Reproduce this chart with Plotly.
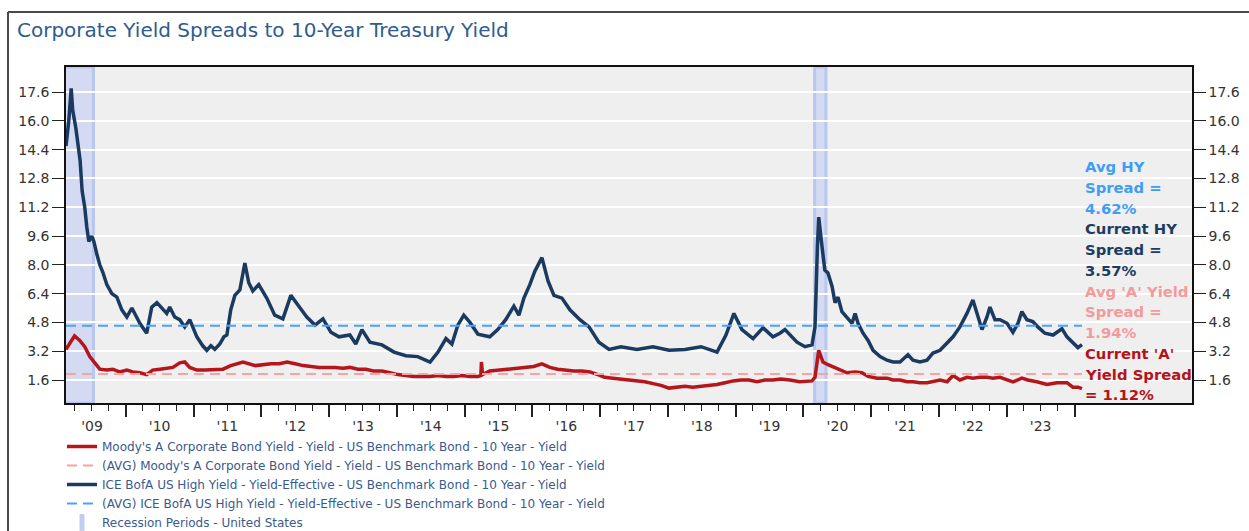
import plotly.graph_objects as go

# ---------------- data ----------------
hy_dates = [
    "2009-02-12", "2009-02-27", "2009-03-12", "2009-03-20", "2009-04-06", "2009-04-16", "2009-04-29",
    "2009-05-10", "2009-05-24", "2009-06-04", "2009-06-15", "2009-07-01", "2009-07-12", "2009-07-28",
    "2009-08-13", "2009-08-29", "2009-09-20", "2009-10-17", "2009-11-13", "2009-12-10", "2010-01-06",
    "2010-02-02", "2010-02-18", "2010-03-17", "2010-04-23", "2010-05-20", "2010-06-17", "2010-07-13",
    "2010-08-09", "2010-08-25", "2010-09-21", "2010-10-18", "2010-11-14", "2010-12-11", "2011-01-18",
    "2011-02-19", "2011-03-13", "2011-04-04", "2011-04-25", "2011-05-22", "2011-06-13", "2011-06-29",
    "2011-07-20", "2011-08-11", "2011-09-07", "2011-10-04", "2011-10-25", "2011-11-16", "2011-12-18",
    "2012-01-30", "2012-03-13", "2012-04-26", "2012-06-08", "2012-07-21", "2012-09-02", "2012-10-16",
    "2012-11-28", "2013-01-10", "2013-02-22", "2013-04-22", "2013-05-24", "2013-06-26", "2013-08-08",
    "2013-10-12", "2013-12-16", "2014-02-18", "2014-04-23", "2014-06-28", "2014-08-10", "2014-09-22",
    "2014-10-24", "2014-11-25", "2014-12-27", "2015-01-29", "2015-03-13", "2015-05-16", "2015-06-28",
    "2015-08-10", "2015-09-23", "2015-10-20", "2015-11-16", "2015-12-18", "2016-01-14", "2016-02-21",
    "2016-03-25", "2016-04-26", "2016-06-08", "2016-07-21", "2016-09-13", "2016-11-01", "2016-12-24",
    "2017-02-17", "2017-04-22", "2017-07-17", "2017-10-12", "2018-01-06", "2018-04-02", "2018-06-28",
    "2018-09-22", "2018-11-09", "2018-12-22", "2019-02-03", "2019-04-04", "2019-05-28", "2019-07-20",
    "2019-08-27", "2019-09-23", "2019-11-27", "2020-01-09", "2020-02-16", "2020-03-03", "2020-03-16",
    "2020-03-23", "2020-04-10", "2020-04-25", "2020-05-12", "2020-06-03", "2020-06-19", "2020-07-05",
    "2020-07-26", "2020-08-22", "2020-09-19", "2020-10-05", "2020-10-21", "2020-11-17", "2020-12-14",
    "2021-01-10", "2021-02-17", "2021-03-26", "2021-04-27", "2021-06-04", "2021-07-17", "2021-08-13",
    "2021-09-20", "2021-10-28", "2021-11-29", "2022-01-06", "2022-02-13", "2022-03-17", "2022-04-23",
    "2022-05-31", "2022-07-02", "2022-07-24", "2022-08-20", "2022-09-16", "2022-10-02", "2022-10-29",
    "2022-11-25", "2023-01-02", "2023-02-03", "2023-03-02", "2023-03-23", "2023-04-19", "2023-05-21",
    "2023-06-17", "2023-07-25", "2023-09-07", "2023-10-25", "2023-11-21", "2023-12-23", "2024-01-19",
    "2024-02-10",
]
hy_values = [
    14.6, 16.0, 17.8, 16.6, 15.6, 14.9, 13.8,
    12.1, 11.2, 10.1, 9.3, 9.6, 9.3, 8.6,
    8.0, 7.6, 6.9, 6.4, 6.2, 5.5, 5.1,
    5.6, 5.3, 4.75, 4.2, 5.65, 5.9, 5.6,
    5.3, 5.65, 5.1, 4.95, 4.55, 4.95, 4.0,
    3.5, 3.25, 3.5, 3.3, 3.6, 4.0, 4.1,
    5.5, 6.3, 6.6, 8.1, 7.0, 6.55, 6.9,
    6.15, 5.2, 5.0, 6.3, 5.7, 5.1, 4.65,
    5.0, 4.25, 4.0, 4.1, 3.6, 4.4, 3.7,
    3.55, 3.15, 2.95, 2.9, 2.6, 3.15, 3.9,
    3.6, 4.65, 5.2, 4.8, 4.15, 4.0, 4.4,
    4.95, 5.7, 5.2, 6.15, 6.9, 7.65, 8.4,
    7.1, 6.3, 6.15, 5.5, 4.95, 4.55, 3.7,
    3.3, 3.45, 3.3, 3.45, 3.25, 3.3, 3.45,
    3.15, 4.1, 5.3, 4.4, 3.9, 4.5, 4.0,
    4.2, 4.4, 3.7, 3.45, 3.55, 4.55, 9.0,
    10.65, 9.0, 7.7, 7.55, 6.8, 5.9, 6.2,
    5.4, 5.1, 4.75, 5.3, 4.75, 4.2, 3.8,
    3.25, 2.9, 2.7, 2.6, 2.6, 3.0, 2.7,
    2.6, 2.7, 3.1, 3.25, 3.65, 4.0, 4.55,
    5.3, 6.05, 5.3, 4.4, 5.1, 5.65, 4.95,
    4.95, 4.75, 4.25, 4.75, 5.4, 4.95, 4.85,
    4.55, 4.2, 4.1, 4.45, 4.0, 3.65, 3.4,
    3.57,
]

a_dates = [
    "2009-02-12", "2009-03-14", "2009-03-30", "2009-04-27", "2009-05-24", "2009-06-20", "2009-07-17",
    "2009-08-13", "2009-09-20", "2009-10-22", "2009-11-28", "2010-01-06", "2010-02-07", "2010-03-17",
    "2010-04-23", "2010-05-25", "2010-07-03", "2010-08-09", "2010-09-11", "2010-10-18", "2010-11-14",
    "2010-12-11", "2011-01-18", "2011-03-02", "2011-04-25", "2011-06-08", "2011-07-20", "2011-09-24",
    "2011-11-30", "2012-01-12", "2012-02-23", "2012-04-06", "2012-05-19", "2012-07-01", "2012-08-13",
    "2012-09-25", "2012-11-07", "2012-12-20", "2013-02-01", "2013-03-16", "2013-04-22", "2013-06-04",
    "2013-07-17", "2013-08-28", "2013-10-12", "2013-11-24", "2014-01-06", "2014-02-18", "2014-04-02",
    "2014-05-14", "2014-06-28", "2014-08-10", "2014-09-22", "2014-11-04", "2014-12-17", "2015-01-29",
    "2015-03-13", "2015-03-29", "2015-04-01", "2015-04-07", "2015-05-16", "2015-07-08", "2015-08-31",
    "2015-10-13", "2015-11-25", "2016-01-08", "2016-02-21", "2016-04-04", "2016-05-16", "2016-06-28",
    "2016-08-11", "2016-09-24", "2016-11-06", "2016-12-19", "2017-01-24", "2017-03-09", "2017-04-22",
    "2017-06-04", "2017-07-17", "2017-08-29", "2017-10-12", "2017-11-24", "2018-01-06", "2018-02-18",
    "2018-04-02", "2018-05-14", "2018-06-28", "2018-08-10", "2018-09-22", "2018-11-04", "2018-12-17",
    "2019-01-29", "2019-03-13", "2019-04-25", "2019-06-07", "2019-07-20", "2019-09-01", "2019-10-19",
    "2019-12-12", "2020-02-16", "2020-03-03", "2020-03-23", "2020-04-15", "2020-05-12", "2020-06-19",
    "2020-07-15", "2020-08-22", "2020-10-05", "2020-11-11", "2020-12-14", "2021-02-01", "2021-03-26",
    "2021-04-27", "2021-06-04", "2021-07-12", "2021-08-13", "2021-09-20", "2021-10-28", "2021-11-29",
    "2022-01-06", "2022-02-13", "2022-03-17", "2022-04-23", "2022-05-31", "2022-07-02", "2022-08-09",
    "2022-09-16", "2022-10-18", "2022-11-25", "2023-01-02", "2023-02-03", "2023-03-23", "2023-04-24",
    "2023-06-12", "2023-08-05", "2023-09-28", "2023-11-21", "2023-12-23", "2024-01-19", "2024-02-10",
]
a_values = [
    3.3, 3.8, 4.05, 3.8, 3.45, 2.9, 2.55,
    2.2, 2.15, 2.2, 2.05, 2.15, 2.05, 2.0,
    1.9, 2.15, 2.2, 2.25, 2.3, 2.55, 2.6,
    2.3, 2.15, 2.15, 2.2, 2.2, 2.4, 2.6,
    2.4, 2.45, 2.5, 2.5, 2.6, 2.5, 2.4,
    2.35, 2.3, 2.3, 2.3, 2.25, 2.3, 2.2,
    2.2, 2.1, 2.1, 2.0, 1.9, 1.85, 1.8,
    1.8, 1.8, 1.85, 1.8, 1.8, 1.85, 1.8,
    1.8, 1.85, 2.6, 1.9, 2.1, 2.15, 2.2,
    2.25, 2.3, 2.35, 2.5, 2.3, 2.2, 2.15,
    2.1, 2.1, 2.05, 1.9, 1.75, 1.7, 1.65,
    1.6, 1.55, 1.5, 1.4, 1.3, 1.15, 1.2,
    1.25, 1.2, 1.25, 1.3, 1.35, 1.45, 1.55,
    1.6, 1.6, 1.5, 1.6, 1.6, 1.65, 1.6,
    1.5, 1.55, 1.75, 3.25, 2.6, 2.45, 2.3,
    2.15, 2.0, 2.05, 2.0, 1.8, 1.7, 1.7,
    1.6, 1.6, 1.5, 1.5, 1.45, 1.45, 1.5,
    1.6, 1.5, 1.85, 1.6, 1.75, 1.7, 1.75,
    1.75, 1.7, 1.75, 1.6, 1.5, 1.7, 1.6,
    1.5, 1.35, 1.45, 1.45, 1.2, 1.2, 1.12,
]

avg_hy = 4.62
avg_a = 1.94
current_hy = 3.57
current_a = 1.12

series_names = [
    "Moody's A Corporate Bond Yield - Yield - US Benchmark Bond - 10 Year - Yield",
    "(AVG) Moody's A Corporate Bond Yield - Yield - US Benchmark Bond - 10 Year - Yield",
    "ICE BofA US High Yield - Yield-Effective - US Benchmark Bond - 10 Year - Yield",
    "(AVG) ICE BofA US High Yield - Yield-Effective - US Benchmark Bond - 10 Year - Yield",
    "Recession Periods - United States",
]

recession_starts = ["2007-12-01", "2020-03-01"]
recession_ends = ["2009-07-10", "2020-05-01"]

y_tick_values = [1.6, 3.2, 4.8, 6.4, 8.0, 9.6, 11.2, 12.8, 14.4, 16.0, 17.6]
label_years = list(range(2009, 2024))
year_labels = ["'" + str(y)[2:] for y in label_years]

note_lines = [
    ("Avg HY", "#3f9df5"), ("Spread =", "#3f9df5"), ("4.62%", "#3f9df5"),
    ("Current HY", "#1d3c63"), ("Spread =", "#1d3c63"), ("3.57%", "#1d3c63"),
    ("Avg 'A' Yield", "#f59a9a"), ("Spread =", "#f59a9a"), ("1.94%", "#f59a9a"),
    ("Current 'A'", "#b3141c"), ("Yield Spread", "#b3141c"), ("= 1.12%", "#b3141c"),
]

# ---------------- layout constants ----------------
W, H = 1249, 531
ML, MR, MT, MB = 66, 57, 67, 128
PW, PH = W - ML - MR, H - MT - MB
FONT = "DejaVu Sans"
x_range = ["2009-02-12", "2025-09-25"]
y_range = [0.322, 18.989]


def px_x(px):
    return (px - ML) / PW


def px_y(py):
    return (H - MB - py) / PH


series_start, series_end = hy_dates[0], hy_dates[-1]

fig = go.Figure()
fig.add_trace(go.Scatter(x=a_dates, y=a_values, mode="lines", name=series_names[0],
                         line=dict(color="#b5161c", width=3.5)))
fig.add_trace(go.Scatter(x=[series_start, series_end], y=[avg_a, avg_a], mode="lines", name=series_names[1],
                         line=dict(color="#f5a3a3", width=2, dash="10px,6px")))
fig.add_trace(go.Scatter(x=hy_dates, y=hy_values, mode="lines", name=series_names[2],
                         line=dict(color="#1b3a60", width=3.5)))
fig.add_trace(go.Scatter(x=[series_start, series_end], y=[avg_hy, avg_hy], mode="lines", name=series_names[3],
                         line=dict(color="#4aa3ff", width=2, dash="10px,6px")))
fig.add_trace(go.Scatter(x=[None], y=[None], mode="markers", name=series_names[4],
                         marker=dict(symbol="line-ns", size=12, color="#c3cdf2",
                                     line=dict(color="#c3cdf2", width=5))))
# helper trace for the overlaid label axis / right axis
fig.add_trace(go.Scatter(x=[None], y=[None], xaxis="x2", yaxis="y2", showlegend=False, hoverinfo="skip"))

for s, e in zip(recession_starts, recession_ends):
    fig.add_shape(type="rect", xref="x", yref="paper", x0=s, x1=e, y0=0, y1=1,
                  fillcolor="#d3daf2", line=dict(color="#b9c6f0", width=3), layer="between")

# outer frame of the figure (top and left edges)
frame_line = dict(color="#4a4a4a", width=2)
fig.add_shape(type="line", xref="paper", yref="paper", x0=px_x(8), x1=px_x(W + 20),
              y0=px_y(12), y1=px_y(12), line=frame_line, layer="above")
fig.add_shape(type="line", xref="paper", yref="paper", x0=px_x(8), x1=px_x(8),
              y0=px_y(12), y1=px_y(H + 20), line=frame_line, layer="above")

year_ticks = [f"{y}-01-01" for y in range(2010, 2025)]
quarter_ticks = [f"{y}-{m:02d}-01" for y in range(2009, 2024) for m in (4, 7, 10)]
mid_ticks = [f"{y}-07-02" for y in label_years]

tick_font = dict(family=FONT, size=14, color="#333333")

for i, (txt, col) in enumerate(note_lines):
    fig.add_annotation(x=px_x(1083), y=px_y(166.7 + 20.75 * i), xref="paper", yref="paper",
                       text=f"<b>{txt}</b>", showarrow=False, xanchor="left", yanchor="middle",
                       align="left", font=dict(family=FONT, size=14.8, color=col))

fig.update_layout(
    width=W, height=H, autosize=False,
    margin=dict(l=ML, r=MR, t=MT, b=MB, pad=0, autoexpand=False),
    paper_bgcolor="white", plot_bgcolor="#efefef",
    title=dict(text="Corporate Yield Spreads to 10-Year Treasury Yield", xref="container", yref="container",
               x=17 / W, y=1 - 30 / H, xanchor="left", yanchor="middle",
               font=dict(family=FONT, size=20, color="#2e5c8e")),
    showlegend=True,
    legend=dict(x=px_x(62), y=px_y(432), xanchor="left", yanchor="top", orientation="v",
                font=dict(family=FONT, size=12, color="#3a5a8c"), bgcolor="rgba(0,0,0,0)",
                traceorder="normal", itemwidth=30),
    xaxis=dict(type="date", range=x_range, tickmode="array", tickvals=year_ticks, showticklabels=False,
               ticks="outside", ticklen=12, tickwidth=1.5, tickcolor="#222222",
               minor=dict(tickmode="array", tickvals=quarter_ticks, ticks="outside", ticklen=6,
                          tickwidth=1.3, tickcolor="#222222", showgrid=False),
               showgrid=False, zeroline=False, showline=True, linecolor="#111111", linewidth=1.5, mirror=True),
    xaxis2=dict(type="date", overlaying="x", matches="x", anchor="y", side="bottom",
                tickmode="array", tickvals=mid_ticks, ticktext=year_labels,
                ticks="outside", ticklen=10, tickcolor="rgba(0,0,0,0)", tickfont=tick_font,
                showgrid=False, zeroline=False, showline=False),
    yaxis=dict(range=y_range, tickmode="array", tickvals=y_tick_values, tickformat=".1f",
               ticks="outside", ticklen=12, tickwidth=1.3, tickcolor="#222222", tickfont=tick_font,
               showgrid=True, gridcolor="white", gridwidth=2, zeroline=False,
               showline=True, linecolor="#111111", linewidth=1.5),
    yaxis2=dict(overlaying="y", matches="y", side="right", anchor="x", tickmode="array",
                tickvals=y_tick_values, tickformat=".1f", ticks="outside", ticklen=12, tickwidth=1.3,
                tickcolor="#222222", tickfont=tick_font, showgrid=False, zeroline=False,
                showline=True, linecolor="#111111", linewidth=1.5),
    hovermode=False,
)

fig.write_html("out.html")
